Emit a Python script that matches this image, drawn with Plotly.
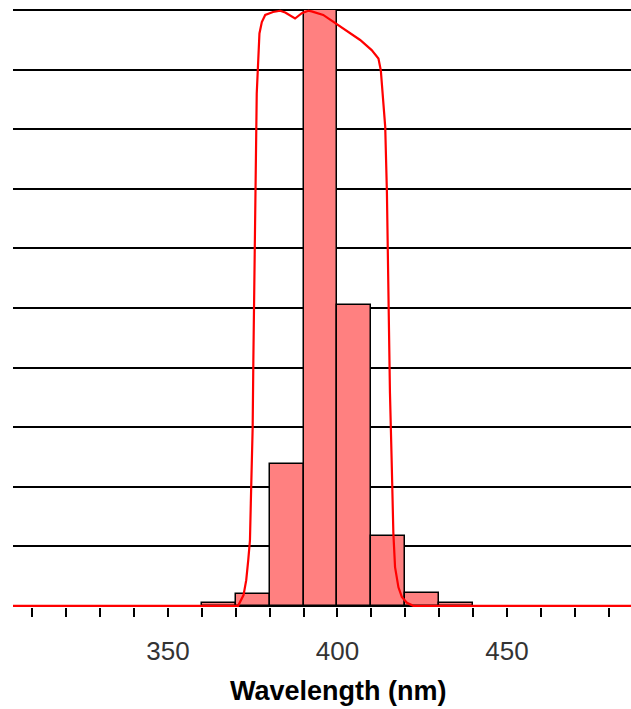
import plotly.graph_objects as go

# Histogram bins (nm) and heights
bin_centers = [365, 375, 385, 395, 405, 415, 425, 435]
bin_heights = [0.05, 0.19, 2.38, 10.0, 5.05, 1.17, 0.21, 0.04]

# Filter transmission curve (nm, relative value)
curve_nm = [304.3, 370.7, 372.3, 373.1, 373.7, 374.2, 374.45, 374.75, 375.0, 375.2,
            375.4, 375.6, 375.9, 376.2, 377.0, 377.7, 378.7, 381.0, 383.1, 384.6,
            387.5, 389.5, 391.4, 392.4, 395.8, 400.2, 403.7, 406.7, 410.1, 412.1,
            412.8, 414.1, 414.6, 415.0, 415.5, 416.0, 416.5, 417.0, 418.0, 419.0,
            420.5, 422.4, 486.6]
curve_val = [0.0, 0.0, 0.18, 0.43, 0.77, 1.10, 1.72, 2.23, 3.00, 4.12,
             5.25, 6.36, 7.48, 8.60, 9.61, 9.80, 9.92, 9.97, 9.99, 9.96,
             9.86, 9.95, 9.99, 9.98, 9.92, 9.75, 9.61, 9.50, 9.33, 9.19,
             8.99, 8.04, 6.93, 5.25, 3.57, 2.44, 1.22, 0.65, 0.31, 0.15,
             0.05, 0.0, 0.0]

tick_vals = list(range(310, 490, 10))
tick_text = [str(v) if v % 50 == 0 else "" for v in tick_vals]

fig = go.Figure()
fig.add_trace(go.Bar(
    x=bin_centers, y=bin_heights, width=10,
    marker=dict(color="#FF8080", line=dict(color="black", width=1.5)),
    showlegend=False,
))
fig.add_trace(go.Scatter(
    x=curve_nm, y=curve_val, mode="lines",
    line=dict(color="#FF0000", width=2.2),
    showlegend=False,
))

fig.update_layout(
    width=631, height=709,
    margin=dict(l=13, r=0, t=9, b=102),
    paper_bgcolor="white", plot_bgcolor="white",
    bargap=0,
    xaxis=dict(
        range=[304.3, 486.6], tickmode="array", tickvals=tick_vals, ticktext=tick_text,
        ticks="outside", ticklen=9, tickwidth=1.5, tickcolor="black",
        ticklabelstandoff=12,
        showgrid=False, zeroline=False, showline=False,
        tickfont=dict(family="Liberation Sans, Arial", size=26, color="#333333"),
    ),
    yaxis=dict(
        range=[-0.02, 10.02], tickmode="array", tickvals=list(range(0, 11)),
        showgrid=True, gridcolor="black", gridwidth=1.5,
        showticklabels=False, zeroline=False, showline=False, ticks="",
    ),
    annotations=[dict(
        text="<b>Wavelength (nm)</b>", xref="paper", yref="paper",
        x=(338 - 13) / 618, y=-(690 - 606) / 598, xanchor="center", yanchor="middle",
        showarrow=False, font=dict(family="Liberation Sans, Arial", size=27, color="black"),
    )],
)

fig.write_html("out.html")
